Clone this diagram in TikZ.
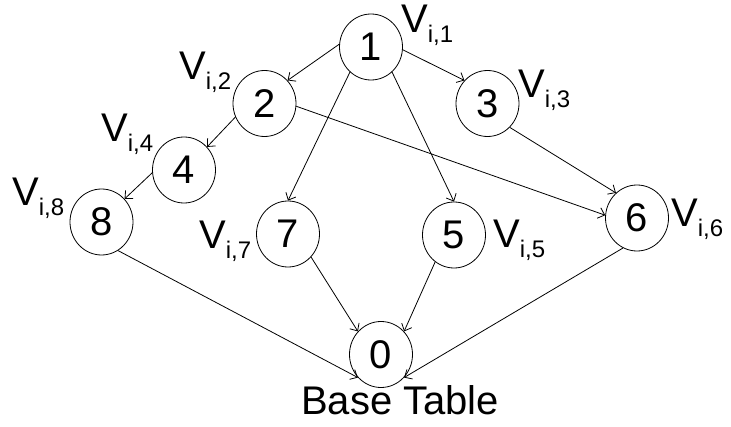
\documentclass[tikz,border=0pt]{standalone}
\usepackage{fontspec}
\setmainfont{Liberation Sans}
\usetikzlibrary{shapes.geometric,arrows.meta}

\newcommand*{\vlab}[1]{V\raisebox{-10pt}{\fontsize{24}{24}\selectfont #1}}

\begin{document}
\begin{tikzpicture}
[
	x=1pt, y=-1pt,
	vertex/.style={ellipse,draw,line width=0.8pt,inner sep=0pt,minimum width=63pt,minimum height=66pt,font=\fontsize{40}{42}\selectfont},
	lbl/.style={anchor=base west,inner sep=0pt,font=\fontsize{40}{42}\selectfont},
	edge/.style={line width=0.8pt,-{Straight Barb[length=6pt,width=11pt]}}
]
	\useasboundingbox (0,0) rectangle (731,427);

	% views
	\node[vertex] (n1) at (371,47) {1};
	\node[vertex] (n2) at (264.5,103.5) {2};
	\node[vertex] (n3) at (487.5,103.5) {3};
	\node[vertex] (n4) at (184,170) {4};
	\node[vertex] (n8) at (101.5,222) {8};
	\node[vertex] (n7) at (288,234) {7};
	\node[vertex] (n5) at (454,235) {5};
	\node[vertex] (n6) at (637,218) {6};
	\node[vertex] (n0) at (381,354.5) {0};

	% labels
	\node[lbl] (v1) at (401,33) {\vlab{i,1}};
	\node[lbl] (v2) at (179,80) {\vlab{i,2}};
	\node[lbl] (v3) at (518,98) {\vlab{i,3}};
	\node[lbl] (v4) at (101,142) {\vlab{i,4}};
	\node[lbl] (v8) at (12,206) {\vlab{i,8}};
	\node[lbl] (v7) at (199,249) {\vlab{i,7}};
	\node[lbl] (v5) at (493,248) {\vlab{i,5}};
	\node[lbl] (v6) at (671,227) {\vlab{i,6}};
	\node[lbl] (btab) at (301,415) {Base Table};

	% edges
	\draw[edge] (n1.175) -- (n2.45);
	\draw[edge] (n1.-5) -- (n3.135);
	\draw[edge] (n1.-130) -- (n7.90);
	\draw[edge] (n1.-50) -- (n5.90);
	\draw[edge] (n2.205) -- (n4.45);
	\draw[edge] (n2.-5) -- (n6.175);
	\draw[edge] (n3.-47) -- (n6.130);
	\draw[edge] (n4.185) -- (n8.45);
	\draw[edge] (n8.-60) -- (n0.225);
	\draw[edge] (n7.-45) -- (n0.135);
	\draw[edge] (n5.-125) -- (n0.45);
	\draw[edge] (n6.-115) -- (n0.-45);

\end{tikzpicture}
\end{document}
